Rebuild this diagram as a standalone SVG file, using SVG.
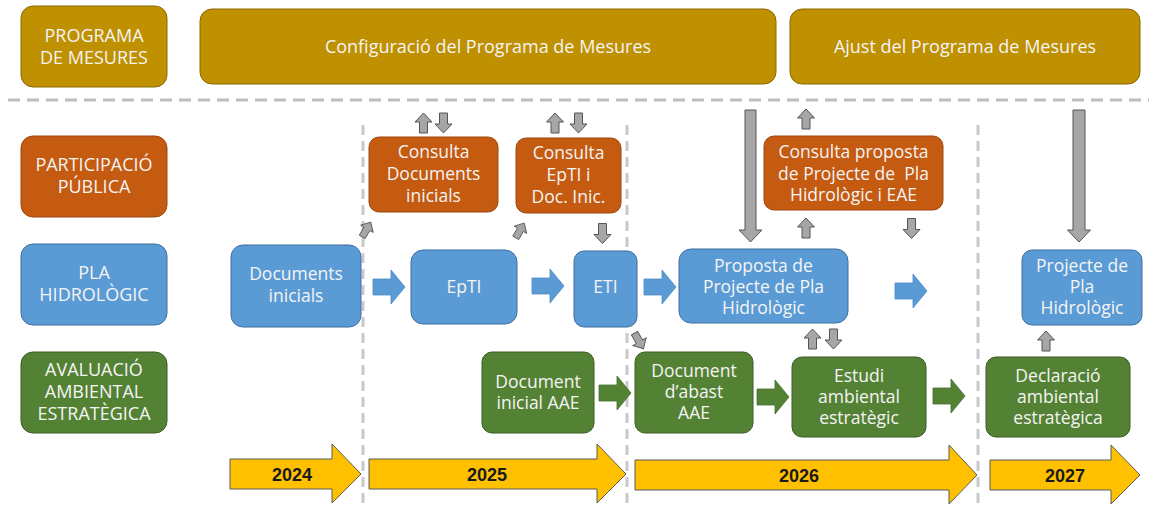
<svg xmlns="http://www.w3.org/2000/svg" xmlns:xlink="http://www.w3.org/1999/xlink" width="1149" height="505" viewBox="0 0 1149 505">
<style>
text{font-family:"Open Sans","Noto Sans","DejaVu Sans",sans-serif;fill:#f4f4f4;text-anchor:middle;white-space:pre}
.lbl{font-size:18px}
.nd{font-size:17.5px}
.yr{font-family:"Liberation Sans",Arial,sans-serif;font-weight:bold;font-size:18px;fill:#1a1a1a}
.gold{fill:#bf9000;stroke:#8a6a00;stroke-width:1}
.org{fill:#c55a11;stroke:#9e4610;stroke-width:1}
.blu{fill:#5b9bd5;stroke:#3d6f9e;stroke-width:1}
.grn{fill:#548235;stroke:#3a5c24;stroke-width:1}
.ba{fill:#5b9bd5;stroke:#4d8cc6;stroke-width:0.8}
.ga{fill:#548235;stroke:#44702a;stroke-width:0.8}
.gr{fill:#a6a6a6;stroke:#555;stroke-width:1}
.yl{fill:#ffc000;stroke:#5a5a5a;stroke-width:1}
.hd{stroke:#bdbdbd;stroke-width:3;stroke-dasharray:12 7;fill:none}
.vd{stroke:#cacaca;stroke-width:3;stroke-dasharray:10 6;fill:none}
</style>
<defs>
<path id="up" d="M0,-10 L8.5,-1 L4,-1 L4,10 L-4,10 L-4,-1 L-8.5,-1 Z"/>
<path id="rt" d="M0,-8 H18 V-17 L32,0 L18,17 V8 H0 Z"/>
</defs>
<rect width="1149" height="505" fill="#fff"/>

<g id="dividers">
<line class="hd" x1="8" y1="100" x2="1149" y2="100"/>
<line class="vd" x1="363" y1="125" x2="363" y2="505"/>
<line class="vd" x1="627" y1="125" x2="627" y2="505"/>
<line class="vd" x1="978" y1="125" x2="978" y2="505"/>
</g>

<g id="label-programa"><rect class="gold" x="21" y="6" width="146" height="81" rx="12"/><text class="lbl" x="94" y="42">PROGRAMA</text><text class="lbl" x="94" y="64">DE MESURES</text></g>
<g id="configuracio"><rect class="gold" x="200" y="9" width="576" height="75" rx="12"/><text class="lbl" x="488" y="53">Configuració del Programa de Mesures</text></g>
<g id="ajust"><rect class="gold" x="790" y="9" width="350" height="75" rx="12"/><text class="lbl" x="965" y="53">Ajust del Programa de Mesures</text></g>

<g id="label-participacio"><rect class="org" x="21" y="136" width="146" height="81" rx="12"/><text class="lbl" x="94" y="171">PARTICIPACIÓ</text><text class="lbl" x="94" y="193">PÚBLICA</text></g>
<g id="label-pla"><rect class="blu" x="21" y="244" width="146" height="81" rx="12"/><text class="lbl" x="94" y="279">PLA</text><text class="lbl" x="94" y="301">HIDROLÒGIC</text></g>
<g id="label-avaluacio"><rect class="grn" x="21" y="352" width="146" height="81" rx="12"/><text class="lbl" x="94" y="376">AVALUACIÓ</text><text class="lbl" x="94" y="398">AMBIENTAL</text><text class="lbl" x="94" y="420">ESTRATÈGICA</text></g>

<g id="consulta-docs"><rect class="org" x="369" y="137" width="129" height="75" rx="10"/><text class="nd" x="433.5" y="158">Consulta</text><text class="nd" x="433.5" y="180">Documents</text><text class="nd" x="433.5" y="202">inicials</text></g>
<g id="consulta-epti"><rect class="org" x="516" y="138" width="105" height="75" rx="10"/><text class="nd" x="568.5" y="159">Consulta</text><text class="nd" x="568.5" y="181">EpTI i</text><text class="nd" x="568.5" y="203">Doc. Inic.</text></g>
<g id="consulta-proposta"><rect class="org" x="764" y="136" width="179" height="74" rx="10"/><text class="nd" x="853.5" y="158">Consulta proposta</text><text class="nd" x="853.5" y="180">de Projecte de  Pla</text><text class="nd" x="853.5" y="201">Hidrològic i EAE</text></g>

<g id="docs-inicials"><rect class="blu" x="231" y="245" width="130" height="82" rx="12"/><text class="nd" x="296" y="280">Documents</text><text class="nd" x="296" y="302">inicials</text></g>
<g id="epti"><rect class="blu" x="411" y="250" width="106" height="74" rx="12"/><text class="nd" x="464" y="293">EpTI</text></g>
<g id="eti"><rect class="blu" x="574" y="251" width="63" height="76" rx="10"/><text class="nd" x="605.5" y="293">ETI</text></g>
<g id="proposta"><rect class="blu" x="679" y="249" width="169" height="74" rx="12"/><text class="nd" x="763.5" y="272">Proposta de</text><text class="nd" x="763.5" y="293">Projecte de Pla</text><text class="nd" x="763.5" y="314">Hidrològic</text></g>
<g id="projecte"><rect class="blu" x="1022" y="250" width="120" height="75" rx="10"/><text class="nd" x="1082" y="272">Projecte de</text><text class="nd" x="1082" y="293">Pla</text><text class="nd" x="1082" y="314">Hidrològic</text></g>

<g id="doc-inicial-aae"><rect class="grn" x="482" y="352" width="112" height="81" rx="10"/><text class="nd" x="538" y="388">Document</text><text class="nd" x="538" y="409">inicial AAE</text></g>
<g id="doc-abast"><rect class="grn" x="635" y="352" width="118" height="81" rx="10"/><text class="nd" x="694" y="377">Document</text><text class="nd" x="694" y="398">d’abast</text><text class="nd" x="694" y="419">AAE</text></g>
<g id="estudi"><rect class="grn" x="792" y="357" width="134" height="80" rx="10"/><text class="nd" x="859" y="382">Estudi</text><text class="nd" x="859" y="403">ambiental</text><text class="nd" x="859" y="424">estratègic</text></g>
<g id="declaracio"><rect class="grn" x="986" y="357" width="144" height="80" rx="10"/><text class="nd" x="1058" y="382">Declaració</text><text class="nd" x="1058" y="403">ambiental</text><text class="nd" x="1058" y="424">estratègica</text></g>

<g id="connectors">
<use href="#rt" class="ba" transform="translate(373,287)"/>
<use href="#rt" class="ba" transform="translate(532,286)"/>
<use href="#rt" class="ba" transform="translate(644,287)"/>
<use href="#rt" class="ba" transform="translate(895,291)"/>
<use href="#rt" class="ga" transform="translate(599,393)"/>
<use href="#rt" class="ga" transform="translate(757,397)"/>
<use href="#rt" class="ga" transform="translate(933,396)"/>
<use href="#up" class="gr" transform="translate(423.5,123)"/>
<use href="#up" class="gr" transform="translate(443.5,123) rotate(180)"/>
<use href="#up" class="gr" transform="translate(555,123)"/>
<use href="#up" class="gr" transform="translate(578.5,123) rotate(180)"/>
<use href="#up" class="gr" transform="translate(366.5,229.5) rotate(30) scale(0.85)"/>
<use href="#up" class="gr" transform="translate(520,230.5) rotate(30) scale(0.85)"/>
<use href="#up" class="gr" transform="translate(602.5,233.5) rotate(180)"/>
<use href="#up" class="gr" transform="translate(639,341) rotate(150) scale(0.9)"/>
<use href="#up" class="gr" transform="translate(806,119)"/>
<use href="#up" class="gr" transform="translate(806,228)"/>
<use href="#up" class="gr" transform="translate(911.5,228.5) rotate(180)"/>
<use href="#up" class="gr" transform="translate(812.5,339)"/>
<use href="#up" class="gr" transform="translate(833.5,339) rotate(180)"/>
<use href="#up" class="gr" transform="translate(1046,341)"/>
<path class="gr" d="M745,110 H756 V230 H762 L750.5,242 L739,230 H745 Z"/>
<path class="gr" d="M1073,110 H1085 V230 H1090.5 L1079,242 L1067.5,230 H1073 Z"/>
</g>

<g id="years">
<path class="yl" d="M230,459 H332 V444 L361,474 L332,503 V489 H230 Z"/><text class="yr" x="292" y="481">2024</text>
<path class="yl" d="M369,459 H597 V444 L626,474 L597,503 V489 H369 Z"/><text class="yr" x="487" y="481">2025</text>
<path class="yl" d="M635,460 H949 V445 L977,475 L949,504 V490 H635 Z"/><text class="yr" x="799" y="482">2026</text>
<path class="yl" d="M990,460 H1111 V445 L1140,475 L1111,504 V490 H990 Z"/><text class="yr" x="1065" y="482">2027</text>
</g>
</svg>
